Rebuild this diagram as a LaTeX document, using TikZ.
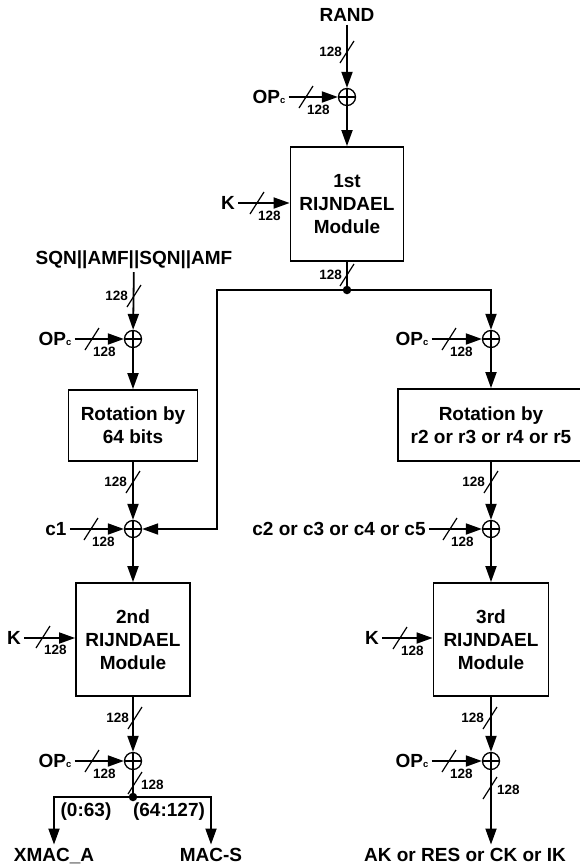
\documentclass[tikz,border=0pt]{standalone}
\usepackage{fontspec}
\setmainfont{Liberation Sans}
\usetikzlibrary{arrows.meta}
\newcommand{\bigf}{\fontsize{19}{23}\selectfont\bfseries}
\newcommand{\numf}{\fontsize{13.5}{15}\selectfont\bfseries}
\newcommand{\opc}{OP\raisebox{-0.5pt}{\fontsize{9.5}{9.5}\selectfont c}}
\tikzset{
  blk/.style={draw, line width=1.8pt, align=center, font=\bigf, inner sep=0pt},
  lbl/.style={font=\bigf, inner sep=3pt},
  xorgate/.style={circle, draw, line width=1.3pt, minimum size=17pt, inner sep=0pt,
    path picture={\draw[line width=1.3pt] (path picture bounding box.north) -- (path picture bounding box.south)
      (path picture bounding box.west) -- (path picture bounding box.east);}},
  joint/.style={circle, fill, inner sep=0pt, minimum size=8.5pt},
  wire/.style={line width=1.8pt},
  sig/.style={wire, -{Triangle[length=16pt,width=11pt]}},
  busline/.style={line width=1.2pt},
  buslbl/.style={font=\numf, inner sep=1pt}
}
% bus width mark: position, label placement, label
\newcommand{\busmark}[3]{%
  \draw[busline] ([shift={(-7,11)}]#1) -- ([shift={(7,-11)}]#1);
  \node[buslbl, #2] at (#1) {#3};}

\begin{document}
\begin{tikzpicture}[x=1pt, y=-1pt]
\useasboundingbox (0,0) rectangle (579,865);

% first module
\node[lbl] (rand) at (347,15) {RAND};
\node[xorgate] (x1) at (347,97) {};
\node[lbl] (op1) at (269,97) {\opc};
\node[blk, minimum width=113pt, minimum height=114pt] (m1) at (347,204) {1st\\RIJNDAEL\\Module};
\node[lbl] (k1) at (228,203) {K};
\coordinate (bend) at (217,290);

% left branch
\node[lbl] (sqn) at (134,260) {SQN||AMF||SQN||AMF};
\node[xorgate] (x2) at (133,339) {};
\node[lbl] (op2) at (55,339) {\opc};
\node[blk, minimum width=129pt, minimum height=71pt] (rot1) at (133,425.5) {Rotation by\\64 bits};
\node[xorgate] (x4) at (133,529) {};
\node[lbl] (c1) at (56,529) {c1};
\node[blk, minimum width=114pt, minimum height=113pt] (m2) at (133,639.5) {2nd\\RIJNDAEL\\Module};
\node[lbl] (k2) at (14,638) {K};
\node[xorgate] (x6) at (133,761) {};
\node[lbl] (op6) at (55,761) {\opc};
\node[lbl] (lo) at (86,812) {(0:63)};
\node[lbl] (hi) at (169,812) {(64:127)};
\node[lbl, anchor=base] (xmac) at (54,861) {XMAC\_A};
\node[lbl, anchor=base] (macs) at (211,861) {MAC-S};

% right branch
\node[xorgate] (x3) at (491,339) {};
\node[lbl] (op3) at (412,339) {\opc};
\node[blk, minimum width=186pt, minimum height=72pt] (rot2) at (491,425) {Rotation by\\r2 or r3 or r4 or r5};
\node[xorgate] (x5) at (491,529) {};
\node[lbl] (c2) at (339,529) {c2 or c3 or c4 or c5};
\node[blk, minimum width=115pt, minimum height=113pt] (m3) at (491,639.5) {3rd\\RIJNDAEL\\Module};
\node[lbl] (k3) at (372,638) {K};
\node[xorgate] (x7) at (491,761) {};
\node[lbl] (op7) at (412,761) {\opc};
\node[lbl, anchor=base] (ak) at (465,861) {AK or RES or CK or IK};

% wires
\draw[sig] (rand) -- (x1);
\draw[sig] (op1) -- (x1);
\draw[sig] (x1) -- (m1);
\draw[sig] (k1) -- (k1 -| m1.west);
\draw[sig] (op2) -- (x2);
\draw[sig] (sqn) -- (x2);
\draw[sig] (x2) -- (rot1);
\draw[sig] (rot1) -- (x4);
\draw[sig] (c1) -- (x4);
\draw[sig] (x4) -- (m2);
\draw[sig] (k2) -- (k2 -| m2.west);
\draw[sig] (m2) -- (x6);
\draw[sig] (op6) -- (x6);

\draw[sig] (op3) -- (x3);
\draw[sig] (x3) -- (rot2);
\draw[sig] (rot2) -- (x5);
\draw[sig] (c2) -- (x5);
\draw[sig] (x5) -- (m3);
\draw[sig] (k3) -- (k3 -| m3.west);
\draw[sig] (m3) -- (x7);
\draw[sig] (op7) -- (x7);
\draw[sig] (x7) -- (x7 |- ak.north);

% junctions, drawn over the wires
\node[joint] (split) at (347,290) {};
\node[joint] (split2) at (133,797) {};
\draw[wire] (m1) -- (split);
\draw[sig] (split) -| (x3);
\draw[sig] (split) -- (bend) |- (x4);
\draw[wire] (x6) -- (split2);
\draw[sig] (split2) -| (xmac);
\draw[sig] (split2) -| (macs);

% bus widths
\busmark{347,52}{anchor=east, xshift=-4pt}{128}
\busmark{306,97}{anchor=north west, yshift=-7pt}{128}
\busmark{257,203}{anchor=north west, yshift=-7pt}{128}
\busmark{347,275}{anchor=east, xshift=-4pt}{128}
\busmark{134,296}{anchor=east, xshift=-5pt}{128}
\busmark{92,339}{anchor=north west, yshift=-7pt}{128}
\busmark{449,339}{anchor=north west, yshift=-7pt}{128}
\busmark{133,482}{anchor=east, xshift=-5pt}{128}
\busmark{491,482}{anchor=east, xshift=-5pt}{128}
\busmark{91,529}{anchor=north west, yshift=-7pt}{128}
\busmark{450,529}{anchor=north west, yshift=-7pt}{128}
\busmark{43,637}{anchor=north west, yshift=-7pt}{128}
\busmark{400,638}{anchor=north west, yshift=-7pt}{128}
\busmark{135,718}{anchor=east, xshift=-5pt}{128}
\busmark{490,718}{anchor=east, xshift=-5pt}{128}
\busmark{92,761}{anchor=north west, yshift=-7pt}{128}
\busmark{449,761}{anchor=north west, yshift=-7pt}{128}
\busmark{135,783}{anchor=west, xshift=5pt, yshift=-2pt}{128}
\busmark{490,788}{anchor=west, xshift=6pt, yshift=-2pt}{128}
\end{tikzpicture}
\end{document}
